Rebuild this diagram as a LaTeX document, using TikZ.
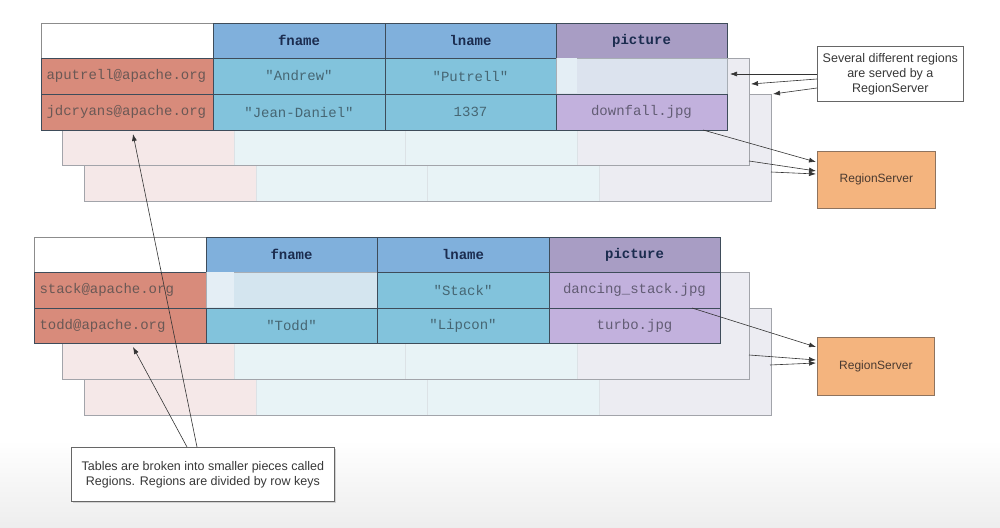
\documentclass[tikz,border=0pt]{standalone}
\usepackage{fontspec}
\setmainfont{Liberation Sans}
\newfontfamily\monof{Liberation Mono}[Ligatures=TeXOff]
\usetikzlibrary{arrows.meta,calc}
\definecolor{hdrblue}{HTML}{80B0DC}
\definecolor{hdrpurple}{HTML}{A89DC4}
\definecolor{keyred}{HTML}{D88B7B}
\definecolor{cellcyan}{HTML}{82C3DC}
\definecolor{cellpurple}{HTML}{C2B1DD}
\definecolor{bpink}{HTML}{F5E8E8}
\definecolor{bcyan}{HTML}{E8F3F6}
\definecolor{blav}{HTML}{ECECF2}
\definecolor{bline}{HTML}{A2A4AA}
\definecolor{bsep}{HTML}{DCE2E6}
\definecolor{gridc}{HTML}{3E4C5A}
\definecolor{hdrtext}{HTML}{1B2C4F}
\definecolor{keytext}{HTML}{6A5855}
\definecolor{celltext}{HTML}{466673}
\definecolor{pictext}{HTML}{625C74}
\definecolor{rsfill}{HTML}{F4B47E}
\definecolor{rsline}{HTML}{8E735E}
\definecolor{rstext}{HTML}{4A3A30}
\definecolor{emptyA}{HTML}{E4EEF5}
\definecolor{emptyB}{HTML}{DCE3EE}
\definecolor{emptyC}{HTML}{D4E5EF}
\newcommand\backlayer[3]{%
  \begin{scope}[shift={(#2,#3)}]
    \fill[bpink] (0,0) rectangle (172,107);
    \fill[bcyan] (172,0) rectangle (515,107);
    \fill[blav] (515,0) rectangle (687,107);
    \draw[bsep, line width=0.8bp] (172,0) -- (172,107) (343,0) -- (343,107) (515,0) -- (515,107);
    \node[draw=bline, line width=0.9bp, minimum width=687bp, minimum height=107bp,
          anchor=north west, inner sep=0pt, outer sep=0pt] (#1) at (0,0) {};
  \end{scope}}
\newcommand\fcell[7][]{%
  \node[cellbase, minimum width=#5bp, minimum height=#6bp, #1] (#2) at (#3,#4) {#7};}
\begin{document}
\begin{tikzpicture}[x=1bp,y=-1bp,
  cellbase/.style={draw=gridc, line width=0.7bp, inner sep=0pt, outer sep=0pt, anchor=north west,
                   font=\monof\fontsize{14bp}{16bp}\selectfont},
  hdrcell/.style={fill=hdrblue, text=hdrtext, font=\monof\bfseries\fontsize{14bp}{16bp}\selectfont},
  hdrpic/.style={fill=hdrpurple, text=hdrtext, font=\monof\bfseries\fontsize{14bp}{16bp}\selectfont},
  blankhdr/.style={fill=white, draw=black!45},
  keycell/.style={fill=keyred, text=keytext, align=left, text width=161bp, inner xsep=5bp},
  valcell/.style={fill=cellcyan, text=celltext},
  piccell/.style={fill=cellpurple, text=pictext},
  emptycell/.style={draw=gridc!45},
  note/.style={draw=black!60, line width=0.7bp, fill=white, align=center, text=black!78,
               font=\fontsize{12.5bp}{15bp}\selectfont, inner sep=0pt, anchor=north west},
  rsbox/.style={draw=rsline, line width=0.7bp, fill=rsfill, text=rstext,
                font=\fontsize{12bp}{14bp}\selectfont, inner sep=0pt, anchor=north west},
  arr/.style={draw=black!80, line width=0.6bp, -{Latex[length=7bp,width=5bp]}}
]
\useasboundingbox (0,0) rectangle (1000,528);
\fill[white] (0,0) rectangle (1000,528);
\shade[top color=white, bottom color=black!7] (0,440) rectangle (1000,528);

% ---------------- top table ----------------
\backlayer{tAthree}{84}{94}
\backlayer{tAtwo}{62}{58}
\fcell[blankhdr]{tAh0}{41}{23}{172}{35}{}
\fcell[hdrcell]{tAh1}{213}{23}{172}{35}{fname}
\fcell[hdrcell]{tAh2}{385}{23}{171}{35}{lname}
\fcell[hdrpic]{tAh3}{556}{23}{171}{35}{picture}
\fcell[keycell]{tAk1}{41}{58}{172}{36}{aputrell@apache.org}
\fcell[valcell]{tAf1}{213}{58}{172}{36}{"Andrew"}
\fcell[valcell]{tAl1}{385}{58}{171}{36}{"Putrell"}
\fcell[emptycell, fill=emptyB]{tAp1}{556}{58}{171}{36}{}
\fill[emptyA] (556.5,58.5) rectangle (577,93.5);
\fcell[keycell]{tAk2}{41}{94}{172}{36}{jdcryans@apache.org}
\fcell[valcell]{tAf2}{213}{94}{172}{36}{"Jean-Daniel"}
\fcell[valcell]{tAl2}{385}{94}{171}{36}{1337}
\fcell[piccell]{tAp2}{556}{94}{171}{36}{downfall.jpg}

% ---------------- bottom table ----------------
\backlayer{tBthree}{84}{308}
\backlayer{tBtwo}{62}{272}
\fcell[blankhdr]{tBh0}{34}{237}{172}{35}{}
\fcell[hdrcell]{tBh1}{206}{237}{171}{35}{fname}
\fcell[hdrcell]{tBh2}{377}{237}{172}{35}{lname}
\fcell[hdrpic]{tBh3}{549}{237}{171}{35}{picture}
\fcell[keycell]{tBk1}{34}{272}{172}{36}{stack@apache.org}
\fcell[emptycell, fill=emptyC]{tBf1}{206}{272}{171}{36}{}
\fill[emptyA] (206.5,272.5) rectangle (234,307.5);
\fcell[valcell]{tBl1}{377}{272}{172}{36}{"Stack"}
\fcell[piccell]{tBp1}{549}{272}{171}{36}{dancing\_stack.jpg}
\fcell[keycell]{tBk2}{34}{308}{172}{35}{todd@apache.org}
\fcell[valcell]{tBf2}{206}{308}{171}{35}{"Todd"}
\fcell[valcell]{tBl2}{377}{308}{172}{35}{"Lipcon"}
\fcell[piccell]{tBp2}{549}{308}{171}{35}{turbo.jpg}

% ---------------- callouts and servers ----------------
\node[note, minimum width=146bp, minimum height=55bp] (c1) at (817,46)
  {Several different regions\\are served by a\\RegionServer};
\node[rsbox, minimum width=118bp, minimum height=57bp] (rs1) at (817,151) {RegionServer};
\node[rsbox, minimum width=117bp, minimum height=58bp] (rs2) at (817,337) {RegionServer};
\fill[black!18] (72.5,448.5) rectangle (336,503);
\node[note, minimum width=263bp, minimum height=54bp] (c2) at (71,447)
  {Tables are broken into smaller pieces called\\Regions. Regions are divided by row keys};

% ---------------- connector end points ----------------
\coordinate (c1a) at (817,74);
\coordinate (c1b) at (817,79);
\coordinate (c1c) at (817,88);
\coordinate (tgA1) at (730,74);
\coordinate (tgA2) at (751,84);
\coordinate (tgA3) at (773,94);
\coordinate (sA1) at (703,130);
\coordinate (sA2) at (749,161);
\coordinate (sA3) at (771,172);
\coordinate (rA1) at (816,162);
\coordinate (rA2) at (816,171);
\coordinate (rA3) at (816,174);
\coordinate (sB1) at (692,308);
\coordinate (sB2) at (749,355);
\coordinate (sB3) at (770,365);
\coordinate (rB1) at (816,347);
\coordinate (rB2) at (816,360);
\coordinate (rB3) at (816,363);
\coordinate (c2a) at (197,447);
\coordinate (c2b) at (187,447);
\coordinate (kA) at (133,134);
\coordinate (kB) at (133,347);

\draw[arr] (c1a) -- (tgA1);
\draw[arr] (c1b) -- (tgA2);
\draw[arr] (c1c) -- (tgA3);
\draw[arr] (sA1) -- (rA1);
\draw[arr] (sA2) -- (rA2);
\draw[arr] (sA3) -- (rA3);
\draw[arr] (sB1) -- (rB1);
\draw[arr] (sB2) -- (rB2);
\draw[arr] (sB3) -- (rB3);
\draw[arr] (c2a) -- (kA);
\draw[arr] (c2b) -- (kB);
\end{tikzpicture}
\end{document}
